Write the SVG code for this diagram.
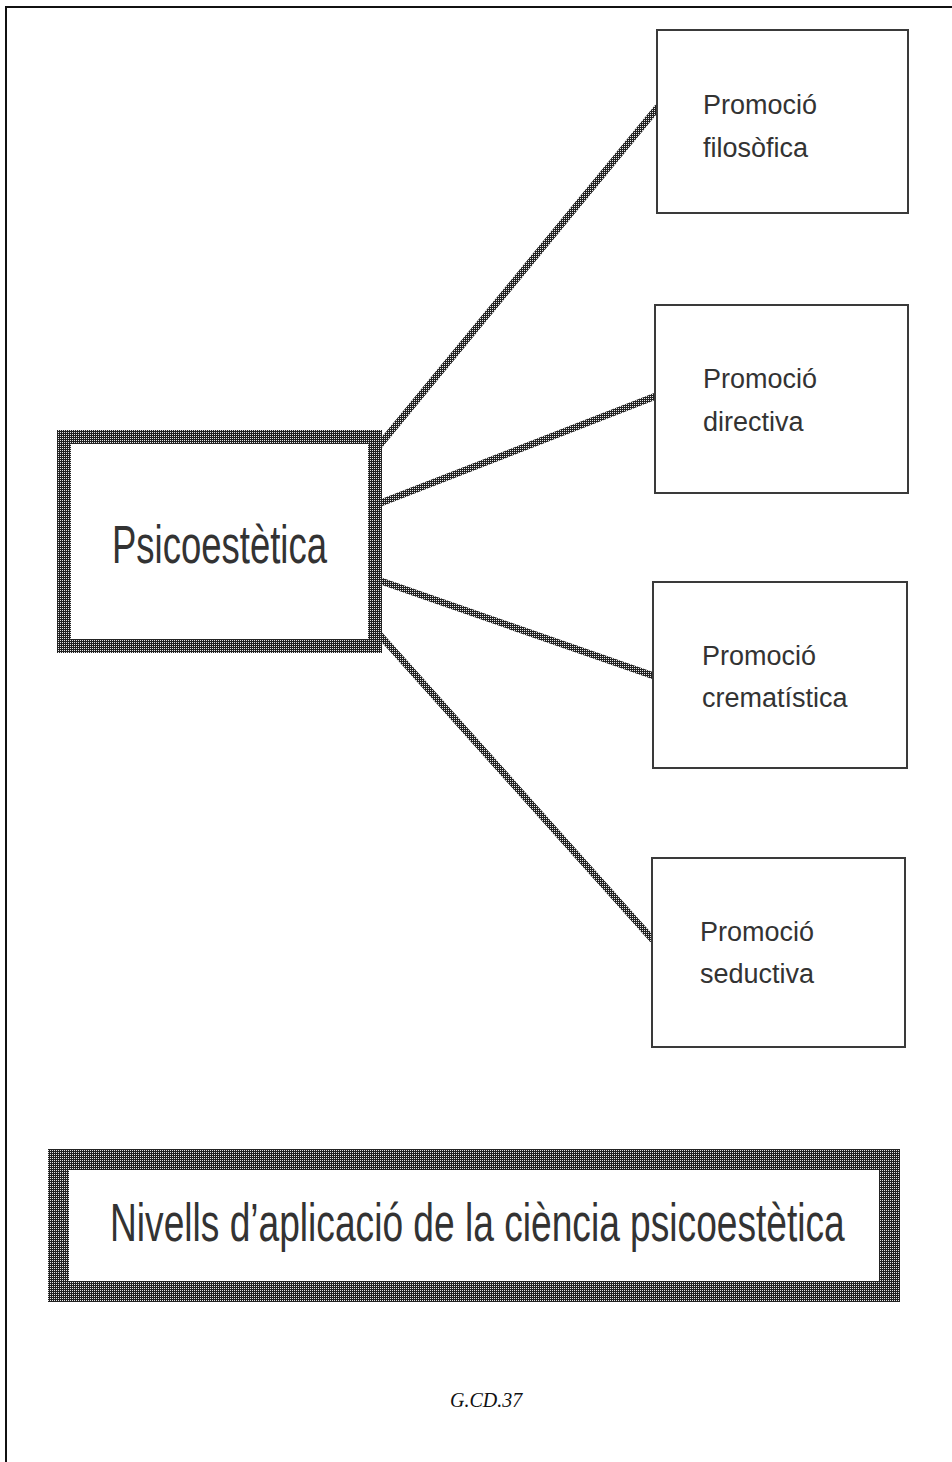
<svg xmlns="http://www.w3.org/2000/svg" width="952" height="1462" viewBox="0 0 952 1462">
  <defs>
    <pattern id="halftone" width="2" height="2" patternUnits="userSpaceOnUse">
      <rect width="2" height="2" fill="#222"/>
      <rect x="0" y="0" width="1" height="1" fill="#e6e6e6"/>
    </pattern>
    <style>
      .page { fill: none; stroke: #111; stroke-width: 2; }
      .conn { stroke: url(#halftone); stroke-width: 7; fill: none; stroke-linecap: butt; }
      .main { fill: #fff; stroke: url(#halftone); stroke-width: 14; }
      .title { fill: #fff; stroke: url(#halftone); stroke-width: 21; }
      .small { fill: #fff; stroke: #3a3a3a; stroke-width: 2; }
      .lbl { font-family: "Liberation Sans", Arial, sans-serif; fill: #333; }
      .sm { font-size: 27px; }
      .foot { font-family: "Liberation Serif", "Times New Roman", serif; font-style: italic; font-size: 20px; fill: #111; }
    </style>
  </defs>
  <rect width="952" height="1462" fill="#fff"/>
  <rect class="page" x="6" y="7" width="980" height="1500"/>

  <g id="connectors">
    <line class="conn" x1="378" y1="447" x2="658" y2="107"/>
    <line class="conn" x1="378" y1="504" x2="656" y2="396"/>
    <line class="conn" x1="378" y1="580" x2="654" y2="676"/>
    <line class="conn" x1="378" y1="633" x2="653" y2="940"/>
  </g>

  <g id="node-psicoestetica">
    <rect class="main" x="64" y="437" width="311" height="209"/>
    <text class="lbl" font-size="53" transform="translate(112,563) scale(0.689,1)" x="0" y="0" textLength="312" lengthAdjust="spacingAndGlyphs">Psicoestètica</text>
  </g>

  <g id="node-filosofica">
    <rect class="small" x="657" y="30" width="251" height="183"/>
    <text class="lbl sm" x="703" y="114">Promoció</text>
    <text class="lbl sm" x="703" y="157">filosòfica</text>
  </g>

  <g id="node-directiva">
    <rect class="small" x="655" y="305" width="253" height="188"/>
    <text class="lbl sm" x="703" y="388">Promoció</text>
    <text class="lbl sm" x="703" y="431">directiva</text>
  </g>

  <g id="node-crematistica">
    <rect class="small" x="653" y="582" width="254" height="186"/>
    <text class="lbl sm" x="702" y="665">Promoció</text>
    <text class="lbl sm" x="702" y="707">crematística</text>
  </g>

  <g id="node-seductiva">
    <rect class="small" x="652" y="858" width="253" height="189"/>
    <text class="lbl sm" x="700" y="941">Promoció</text>
    <text class="lbl sm" x="700" y="983">seductiva</text>
  </g>

  <g id="title">
    <rect class="title" x="58.5" y="1159.5" width="831" height="132"/>
    <text class="lbl" font-size="54" transform="translate(110,1241) scale(0.688,1)" x="0" y="0" textLength="1068" lengthAdjust="spacingAndGlyphs">Nivells d’aplicació de la ciència psicoestètica</text>
  </g>

  <g id="footer">
    <text class="foot" x="450" y="1407">G.CD.37</text>
  </g>
</svg>
